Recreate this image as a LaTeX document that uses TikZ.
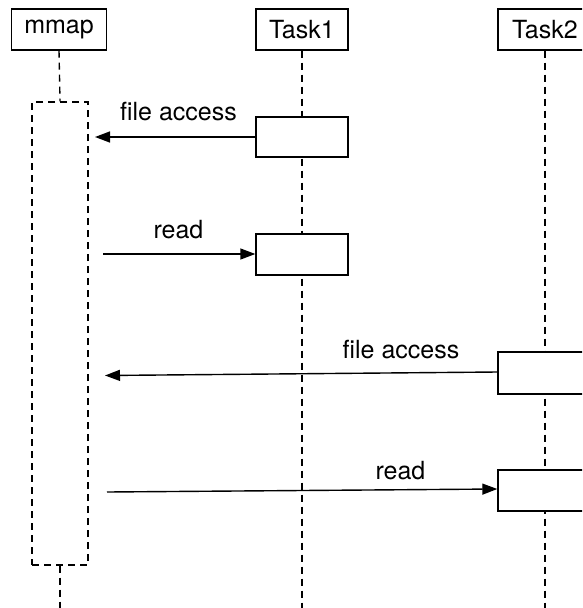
\documentclass[tikz,border=0pt]{standalone}
\usepackage{fontspec}
\setmainfont{TeX Gyre Heros}
\usetikzlibrary{arrows.meta}

\tikzset{
  lane/.style={draw=black, line width=1.4pt, fill=white, minimum height=41pt,
    inner sep=0pt, font=\fontsize{25}{29}\selectfont},
  actbox/.style={draw=black, line width=1.4pt, fill=white, inner sep=0pt},
  lifeline/.style={draw=black, line width=1.4pt, dash pattern=on 7pt off 5pt},
  msg/.style={draw=black, line width=1.4pt, -{Triangle[length=15pt,width=11pt]}},
  msglabel/.style={anchor=base, inner sep=0pt, font=\fontsize{25}{29}\selectfont}
}

\begin{document}
\begin{tikzpicture}[x=1pt, y=-1pt]
  \useasboundingbox (0,0) rectangle (582,608);
  \clip (0,0) rectangle (582,608);

  % participant heads
  \node[lane, minimum width=95pt] (mmap)  at (59,29.5)  {mmap};
  \node[lane, minimum width=92pt] (task1) at (302,29.5) {Task1};
  \node[lane, minimum width=94pt] (task2) at (545,29.5) {Task2};

  % end points of the lifelines
  \coordinate (mmapEnd)  at (60,608);
  \coordinate (task1End) at (302,608);
  \coordinate (task2End) at (545,608);

  % mmap activation (dashed)
  \node[draw=black, line width=1.4pt, dash pattern=on 7pt off 5pt,
        minimum width=56pt, minimum height=463pt, inner sep=0pt]
        (mmapAct) at (60,333.5) {};

  % lifelines
  \draw[lifeline] (mmap.south) -- (mmapAct.north);
  \draw[lifeline] (mmapAct.south) -- (mmapEnd);
  \draw[lifeline] (task1.south) -- (task1End);
  \draw[lifeline] (task2.south) -- (task2End);

  % activation boxes
  \node[actbox, minimum width=92pt, minimum height=40pt] (t1a) at (302,137)   {};
  \node[actbox, minimum width=92pt, minimum height=41pt] (t1b) at (302,254.5) {};
  \node[actbox, minimum width=94pt, minimum height=42pt] (t2a) at (545,373)   {};
  \node[actbox, minimum width=94pt, minimum height=41pt] (t2b) at (545,490.5) {};

  % free ends of the messages near mmap
  \coordinate (m1) at (95,137);
  \coordinate (m2) at (103,254);
  \coordinate (m3) at (105,375.5);
  \coordinate (m4) at (107,492);

  % messages
  \draw[msg] (t1a.west) -- (m1);
  \draw[msg] (m2) -- (t1b.west |- m2);
  \draw[msg] ([yshift=1pt]t2a.west) -- (m3);
  \draw[msg] (m4) -- ([yshift=1.5pt]t2b.west);

  % message labels
  \node[msglabel] (l1) at (178.5,120) {file access};
  \node[msglabel] (l2) at (178.5,238) {read};
  \node[msglabel] (l3) at (401,358)   {file access};
  \node[msglabel] (l4) at (400.5,479) {read};
\end{tikzpicture}
\end{document}
